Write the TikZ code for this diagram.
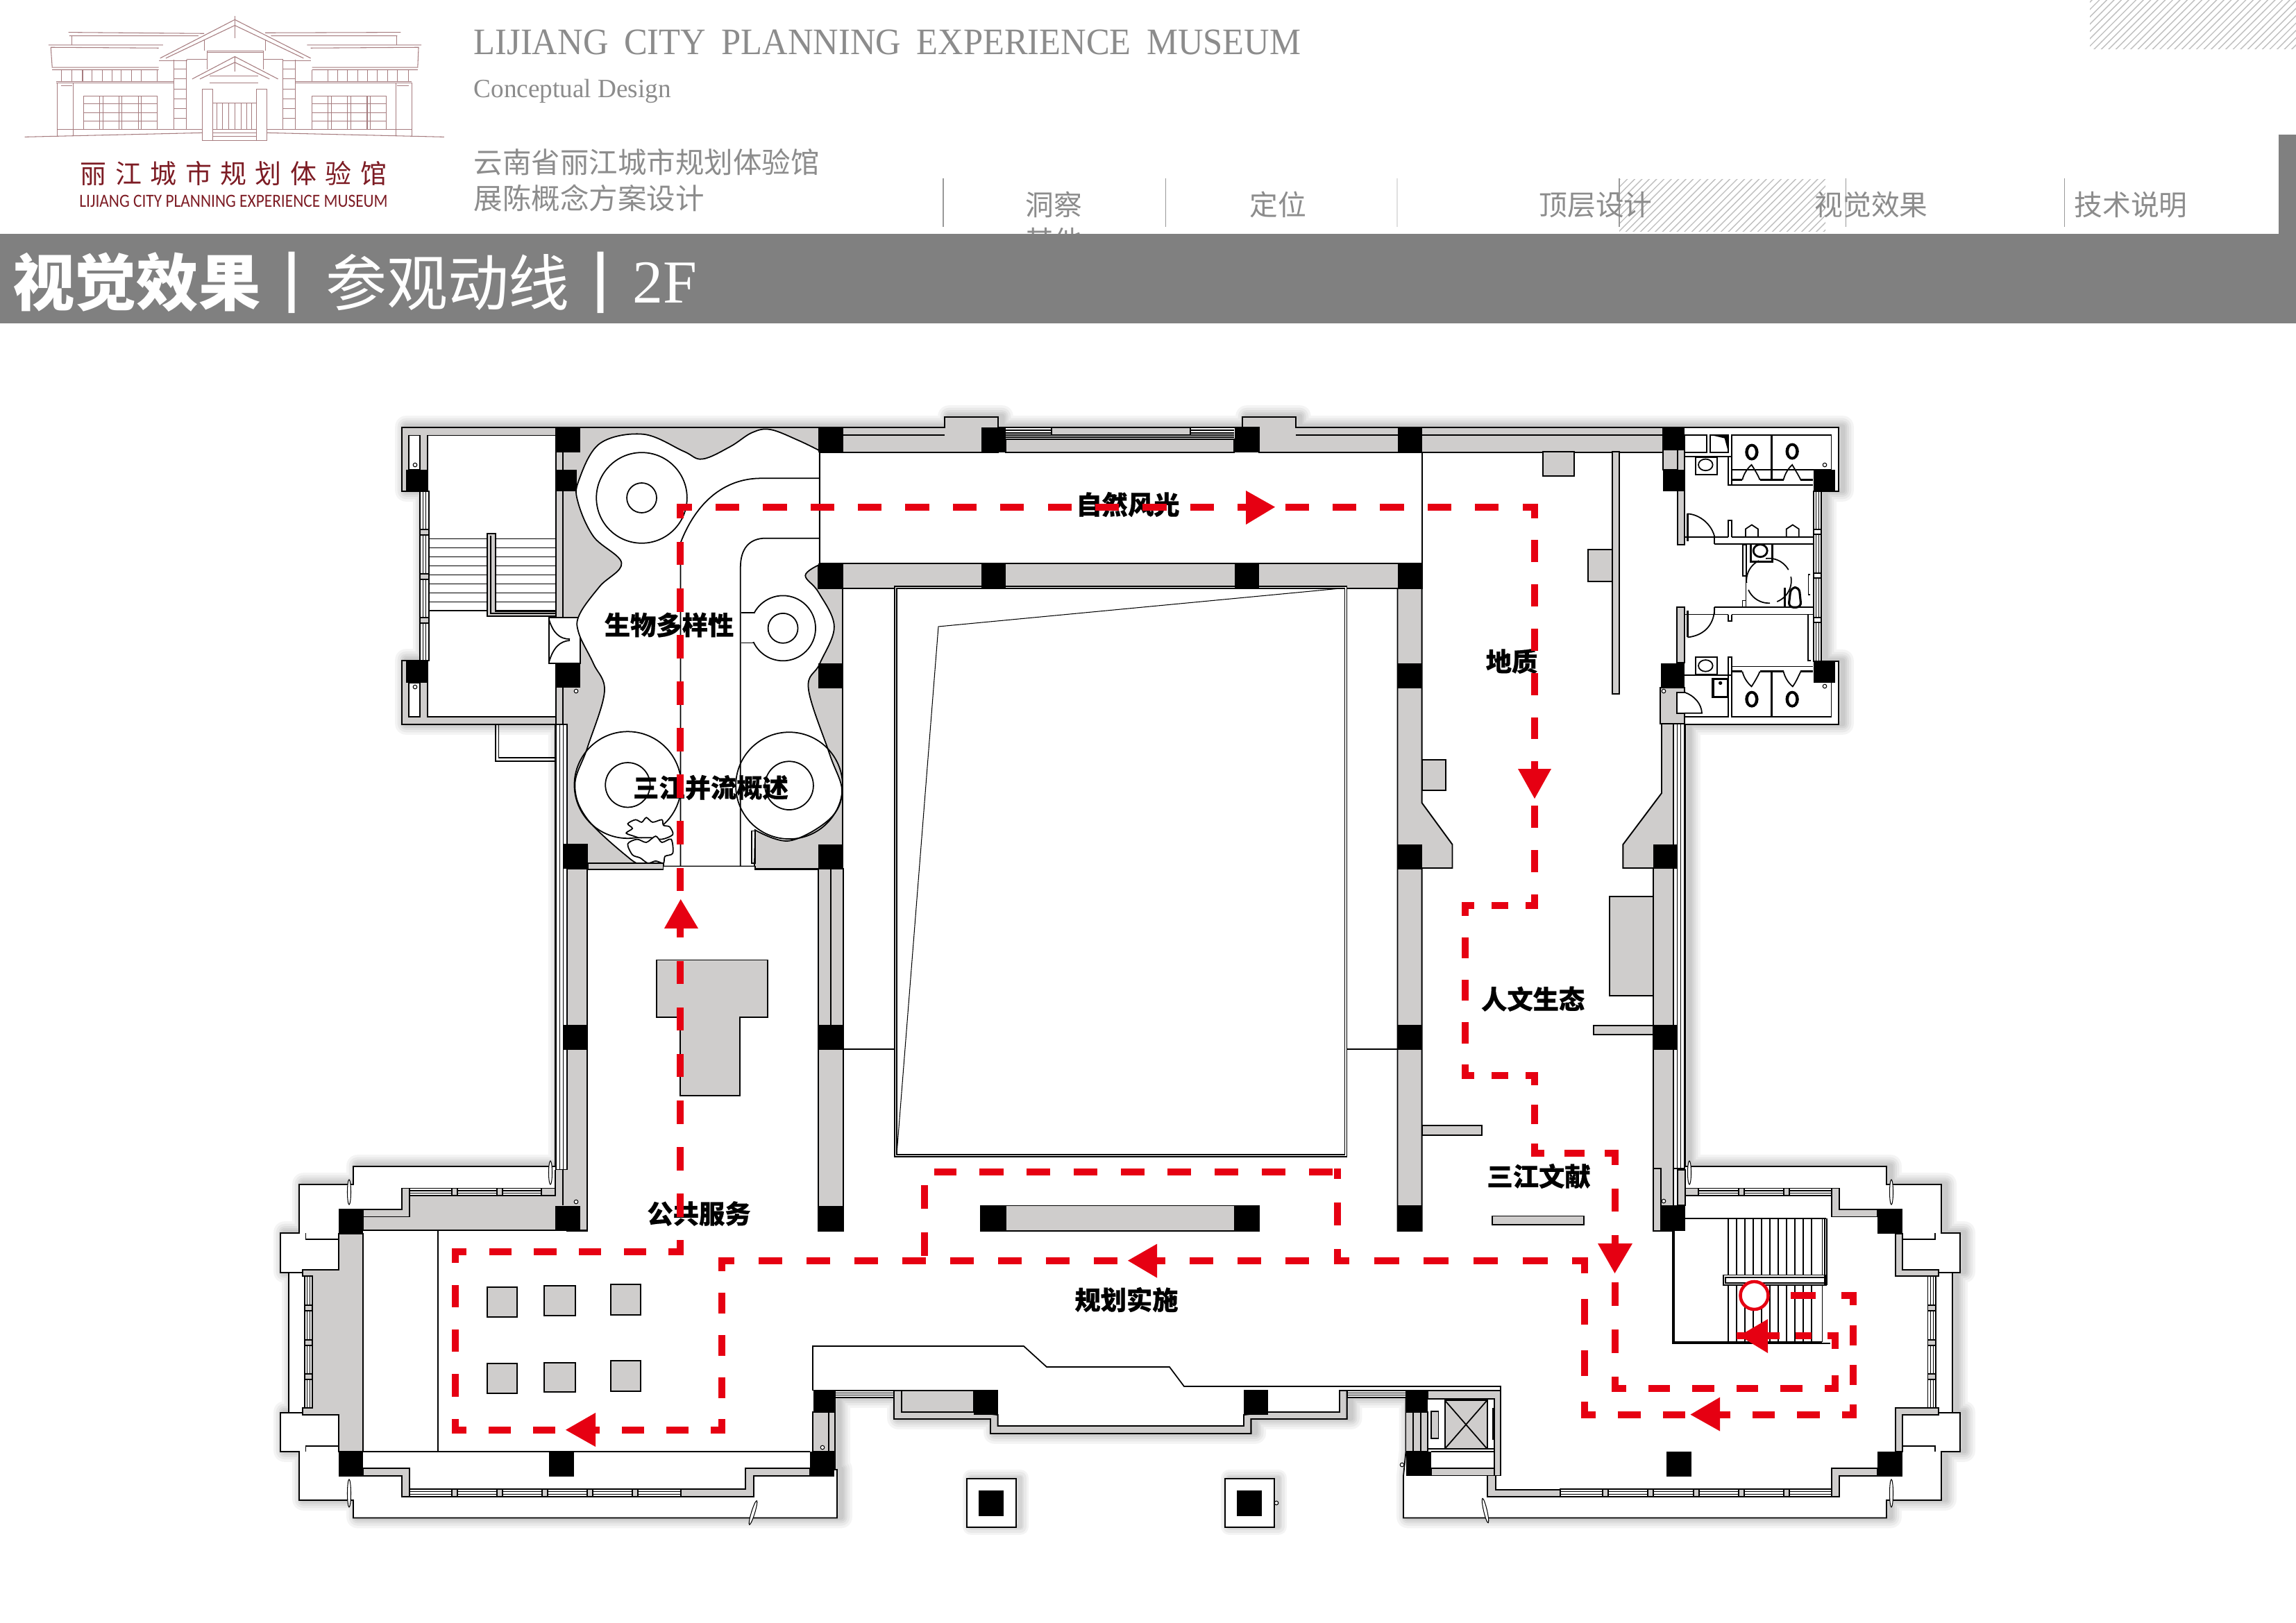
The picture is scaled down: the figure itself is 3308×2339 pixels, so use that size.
\documentclass[tikz,border=0pt]{standalone}
\usepackage{fontspec}
\usepackage{tikz}
\usetikzlibrary{calc,patterns}
\setmainfont{Liberation Serif}
\newfontfamily\cjk{Noto Sans CJK SC}
\newfontfamily\logosans{Carlito}
\newcommand{\planfs}[1]{\fontsize{#1}{#1}\selectfont}
\definecolor{wallgray}{HTML}{CFCDCC}
\definecolor{bandgray}{HTML}{808080}
\definecolor{headgray}{HTML}{8C8C8C}
\definecolor{routered}{HTML}{E60012}
\definecolor{logoline}{HTML}{A67C7F}
\definecolor{logotext}{HTML}{7D1C24}
\tikzset{
  plain/.style={draw=black, line width=0.5pt},
  thin line/.style={draw=black, line width=0.3pt},
  wall/.style={draw=black, line width=0.55pt, fill=wallgray},
  pillar/.style={fill=black},
  route/.style={draw=routered, line width=2.85pt, line cap=rect},
  routerun/.style={route, dash pattern=on 6.83pt off 12.43pt},
  head/.style={inner sep=0pt, text=headgray},
  label/.style={inner sep=0pt, text=black, font=\cjk\bfseries\addfontfeature{FakeBold=0.5}\planfs{10.6pt}},
  logo/.style={draw=logoline, line width=0.3pt},
  hatch/.style={pattern=north east lines, pattern color=black!25},
  glow/.style={draw=black, draw opacity=0.045, line join=round, xshift=6*0.01cm, yshift=1*0.01cm},
}
\newcommand{\floorpath}{(579,616) -- (1361,616) -- (1361,601) -- (1438,601) -- (1438,616) -- (1790,616) -- (1790,601) -- (1867,601)
    -- (1867,616) -- (2649,616) -- (2649,708) -- (2624,708) -- (2624,953) -- (2649,953) -- (2649,1044) -- (2428,1044)
    -- (2428,1681) -- (2718,1681) -- (2718,1707) -- (2797,1707) -- (2797,1777) -- (2824,1777) -- (2824,1834)
    -- (2813,1834) -- (2813,2036) -- (2824,2036) -- (2824,2092) -- (2797,2092) -- (2797,2162) -- (2718,2162)
    -- (2718,2187.5) -- (2022,2187.5) -- (2022,2127) -- (2025.5,2092) -- (2025.5,2014) -- (1940.6,2014)
    -- (1940.6,2045) -- (1802.4,2045) -- (1802.4,2066) -- (1427,2066) -- (1427,2045) -- (1288,2045) -- (1288,2014)
    -- (1203,2014) -- (1203,2118) -- (1206,2118) -- (1206,2187.5) -- (509,2187.5) -- (509,2162) -- (431,2162)
    -- (431,2092) -- (404,2092) -- (404,2036) -- (416,2036) -- (416,1834) -- (404,1834) -- (404,1777) -- (431,1777)
    -- (431,1707) -- (509,1707) -- (509,1681) -- (800,1681) -- (800,1044) -- (579,1044) -- (579,952) -- (605,952)
    -- (605,708) -- (579,708) -- cycle}
\newcommand{\glazeh}[4]{%
  \draw[wall,fill=white] (#1,#2) rectangle (#3,#4);
  \draw[thin line] (#1,{#2+(#4-#2)/3}) -- (#3,{#2+(#4-#2)/3});
  \draw[thin line] (#1,{#2+2*(#4-#2)/3}) -- (#3,{#2+2*(#4-#2)/3});
}
\newcommand{\glazev}[4]{%
  \draw[wall,fill=white] (#1,#2) rectangle (#3,#4);
  \draw[thin line] ({#1+(#3-#1)/3},#2) -- ({#1+(#3-#1)/3},#4);
  \draw[thin line] ({#1+2*(#3-#1)/3},#2) -- ({#1+2*(#3-#1)/3},#4);
}
\newcommand{\routeleg}[3]{%
  \path let \p1=($(#2)-(#1)$), \n1={veclen(\x1,\y1)} in \pgfextra{%
    \pgfmathsetmacro\legper{\n1/#3}\xdef\legper{\legper}};
  \pgfmathsetmacro\legon{\legper/2-2.845}
  \pgfmathsetmacro\legoff{\legper/2+2.845}
  \pgfmathsetmacro\legph{\legon/2}
  \draw[route, dash pattern=on \legon pt off \legoff pt, dash phase=\legph pt] (#1) -- (#2);
}
\begin{document}
\begin{tikzpicture}[x=0.01cm, y=-0.01cm]
  \useasboundingbox (0,0) rectangle (3308,2339);
  \fill[white] (0,0) rectangle (3308,2339);

  % header
  \fill[hatch] (3011,0) rectangle (3308,70);
  \fill[hatch] (2333,258) rectangle (2630,333);
  \foreach \x in {1359,1679.5,2333,2659,2974}
    \draw[thin line, draw=black!40] (\x,257) -- (\x,327);
  \draw[thin line, draw=black!12] (2013,257) -- (2013,327);
  \node[head, font=\cjk\planfs{11.6pt}] (navone) at (1518,295) {洞察};
  \node[head, font=\cjk\planfs{11.6pt}] (navmore) at (1518,347) {其他};
  \node[head, font=\cjk\planfs{11.6pt}] (navtwo) at (1841,295) {定位};
  \node[head, font=\cjk\planfs{11.6pt}] (navthree) at (2299,295) {顶层设计};
  \node[head, font=\cjk\planfs{11.6pt}] (navfour) at (2696,295) {视觉效果};
  \node[head, font=\cjk\planfs{11.6pt}] (navfive) at (3070,295) {技术说明};
  \fill[bandgray] (0,337) rectangle (3308,466);
  \fill[bandgray] (3283,194) rectangle (3308,337);
  \node[head, anchor=base west, font=\planfs{15.3pt}] (title) at (682,78)
    {\scalebox{0.94}[1]{LIJIANG\hspace{3pt} CITY\hspace{3pt} PLANNING\hspace{3pt} EXPERIENCE\hspace{3pt} MUSEUM}};
  \node[head, anchor=base west, font=\planfs{10.8pt}] (subtitle) at (682,140) {\scalebox{0.98}[1]{Conceptual Design}};
  \node[head, anchor=west, font=\cjk\planfs{11.8pt}] (cnone) at (682,234) {云南省丽江城市规划体验馆};
  \node[head, anchor=west, font=\cjk\planfs{11.8pt}] (cntwo) at (682,285) {展陈概念方案设计};
  \node[inner sep=0pt, text=white, font=\cjk\bfseries\planfs{25.4pt}] (secone) at (197,407) {视觉效果};
  \node[inner sep=0pt, text=white, font=\cjk\planfs{25pt}] (sectwo) at (645,407) {参观动线};
  \node[inner sep=0pt, text=white, font=\cjk\bfseries\planfs{22pt}] (barone) at (421,407) {|};
  \node[inner sep=0pt, text=white, font=\cjk\bfseries\planfs{22pt}] (bartwo) at (866,407) {|};
  \node[inner sep=0pt, text=white, font=\planfs{25pt}] (secthree) at (958,407) {2F};

  % logo
  \begin{scope}[shift={(20,10)}, x=0.004082cm, y=-0.003333cm]
    \draw[logo] (38,563) -- (665,545) (890,545) -- (1515,563);
    \draw[logo] (515,222) -- (778,55) -- (1045,222) (535,222) -- (778,80) -- (1020,222);
    \draw[logo] (512,232) -- (610,232) (945,232) -- (1045,232) (778,40) -- (778,135);
    \draw[logo] (670,145) -- (670,190) (885,145) -- (885,190);
    \draw[logo] (192,110) -- (670,115) (195,125) -- (650,125) (885,112) -- (1362,110) (905,125) -- (1350,125);
    \draw[logo] (205,125) -- (205,165) (1348,125) -- (1348,165);
    \draw[logo] (122,165) -- (525,165) (130,175) -- (510,178) (130,175) -- (135,262) -- (510,262) (135,272) -- (510,272);
    \draw[logo] (1032,165) -- (1435,165) (1045,178) -- (1425,175) -- (1422,262) -- (1050,262) (1050,272) -- (1422,272);
    \foreach \x in {168,205,242,275,312,345,378,415,448,505,1050,1105,1140,1175,1212,1245,1280,1315,1350,1390}
      \draw[logo] (\x,272) -- (\x,322);
    \draw[logo] (150,322) -- (565,322) (150,328) -- (565,328) (990,322) -- (1400,322) (990,328) -- (1400,328);
    \foreach \x in {152,208,1345,1402}
      \draw[logo] (\x,328) -- (\x,560);
    \draw[logo] (165,340) -- (205,340) (1348,340) -- (1390,340);
    \foreach \x in {245,302,313,370,381,438,449,505,1050,1107,1118,1175,1187,1244,1255,1312} {
      \draw[logo] (\x,385) -- (\x,530);
    }
    \foreach \y in {385,420,458,495} {
      \draw[logo] (245,\y) -- (505,\y) (1050,\y) -- (1312,\y);
    }
    \foreach \x in {563,608,948,992}
      \draw[logo] (\x,228) -- (\x,530);
    \foreach \y in {270,312,355,398,440,482} {
      \draw[logo] (563,\y) -- (608,\y) (948,\y) -- (992,\y);
    }
    \draw[logo] (608,228) -- (680,228) (880,228) -- (948,228);
    \draw[logo] (628,312) -- (778,215) -- (930,312) (655,312) -- (778,240) -- (900,312) (778,215) -- (778,280);
    \draw[logo] (680,190) -- (878,190) (680,198) -- (878,198) (680,190) -- (680,270) (878,190) -- (878,270);
    \draw[logo] (690,300) -- (860,300) (690,330) -- (860,330);
    \draw[logo] (663,355) rectangle (700,578) (855,355) rectangle (892,578);
    \draw[logo] (700,415) -- (855,415);
    \foreach \x in {715,735,757,778,800,820,838}
      \draw[logo] (\x,415) -- (\x,530);
    \foreach \y in {530,545,560,578}
      \draw[logo] (700,\y) -- (855,\y);
    \draw[logo] (152,530) -- (663,530) (892,530) -- (1402,530);
  \end{scope}
  \node[inner sep=0pt, text=logotext, font=\cjk\planfs{10.8pt}] (logocn) at (336.5,250)
    {\makebox[4.41cm][s]{丽\hfil 江\hfil 城\hfil 市\hfil 规\hfil 划\hfil 体\hfil 验\hfil 馆}};
  \node[inner sep=0pt, text=logotext, font=\logosans\planfs{7.6pt}] (logoen) at (336.5,290)
    {\scalebox{0.875}[1]{LIJIANG CITY PLANNING EXPERIENCE MUSEUM}};

  % floor outline
  \foreach \w in {9,7,5,3.5,2}
    \draw[glow, line width=\w pt] \floorpath;
  \foreach \x in {1393,1765} {
    \foreach \w in {7,5,3,1.5}
      \draw[glow, line width=\w pt] (\x,2131) rectangle ({\x+71},2201);
  }
  \draw[plain, fill=white] \floorpath;
  \foreach \x in {1393,1765}
    \draw[plain, fill=white] (\x,2131) rectangle ({\x+71},2201);

  % gray walls
  \draw[wall] (801,616) -- (1214,616) -- (1214,652) -- (1179,652) -- (1179,812) -- (1214,812) -- (1214,1252)
    -- (817,1252) -- (817,1044) -- (801,1044) -- cycle;
  \draw[wall] (579,616) -- (801,616) -- (801,627.5) -- (616,627.5) -- (616,708) -- (579,708) -- cycle;
  \draw[wall] (579,952) -- (616,952) -- (616,1033) -- (801,1033) -- (801,1044) -- (579,1044) -- cycle;
  \foreach \xa/\ya/\xb/\yb in {589/627.5/605/677, 589/984/605/1033}
    \draw[plain, fill=white] (\xa,\ya) rectangle (\xb,\yb);
  \draw[wall] (1214,616) -- (1361,616) -- (1361,601) -- (1438,601) -- (1438,652) -- (1214,652) -- cycle;
  \draw[wall] (1814,616) -- (1790,616) -- (1790,601) -- (1867,601) -- (1867,616) -- (2396,616) -- (2396,652) -- (1814,652) -- cycle;
  \draw[plain] (1214,627) -- (1361,627) (1867,627) -- (2396,627);
  \draw[wall] (1449,633) rectangle (1778,652);
  \draw[wall] (1515,616) rectangle (1715,627);
  \draw[plain] (1449,627) -- (1515,627) (1715,627) -- (1778,627) (1449,630) -- (1778,630);
  \foreach \y in {620,624} {
    \draw[thin line] (1449,\y) -- (1515,\y) (1715,\y) -- (1778,\y);
  }
  \draw[wall] (1179,812) rectangle (2049,848);
  \draw[wall] (817,1252) rectangle (846,1774);
  \draw[wall] (1179,1252) rectangle (1215,1774);
  \draw[plain] (1197,1252) -- (1197,1477);
  \draw[plain] (1179,652) -- (1179,812) (2048.6,652) -- (2048.6,812);
  \draw[wall] (2013.5,848) -- (2048.6,848) -- (2048.6,1157) -- (2092.5,1217) -- (2092.5,1251) -- (2048.6,1251) -- (2048.6,1774) -- (2013.5,1774) -- cycle;
  \draw[wall] (2048.6,1095) rectangle (2083,1139);
  \draw[wall] (2048.6,1622) rectangle (2135,1636);
  \draw[wall] (2394,1043) -- (2411,1043) -- (2411,1774) -- (2382,1774) -- (2382,1251) -- (2338.4,1251) -- (2338.4,1217) -- (2394,1143) -- cycle;
  \draw[wall] (2319,1292) rectangle (2382,1435);
  \draw[wall] (2295.6,1478) rectangle (2382,1491);
  \draw[wall] (2150,1752.5) rectangle (2281.6,1765);
  \draw[wall] (1413,1737.5) rectangle (1814,1774);
  \draw[wall] (2323,651) rectangle (2333,1000);
  \draw[wall] (2223,651) rectangle (2268,686);
  \draw[wall] (2288,792) rectangle (2323,838);
  \draw[wall] (946,1383.5) -- (1105.7,1383.5) -- (1105.7,1466) -- (1066,1466) -- (1066,1579) -- (980,1579) -- (980,1466) -- (946,1466) -- cycle;

  % display tables
  \foreach \xa/\ya/\xb/\yb in {701.7/1855/744.8/1898, 784/1853/828.6/1896.4, 879.7/1851/923.3/1895,
      701.7/1965/744.8/2008, 784/1963.6/828.6/2006.4, 879.7/1961/923.3/2005}
    \draw[wall] (\xa,\ya) rectangle (\xb,\yb);

  % courtyard
  \draw[plain, fill=white] (1289,845) rectangle (1940.6,1667);
  \draw[thin line] (1292,848) rectangle (1937.6,1664);
  \draw[thin line] (1352,903) -- (1931,848) (1352,903) -- (1292,1663);
  \draw[thin line] (1214,1512) -- (1289,1512) (1940,1512) -- (2014,1512);

  % left stair tower
  \glazev{605}{708}{618}{952}
  \foreach \y in {763,826.6,890}
    \draw[wall] (605,\y) rectangle (618,{\y+8});
  \foreach \y in {776.6,789.6,802.6,815.6,828.6,841.6,854.6,867.6,880}
    \draw[plain] (618,\y) -- (702,\y) (714,\y) -- (801,\y);
  \draw[wall] (702,768.6) -- (714,768.6) -- (714,881) -- (801,881) -- (801,888) -- (702,888) -- cycle;
  \draw[thin line] (707,772) -- (707,884) -- (801,884);
  \draw[thin line] (801,640) -- (811,640) (811,640) -- (811,1044);
  \draw[plain] (714,1045) -- (714,1097) -- (801,1097) (718.5,1045) -- (718.5,1092) -- (801,1092);
  \draw[plain, fill=white] (791,890) -- (836,890) -- (836,956) -- (791,956) -- cycle;
  \draw[plain] (791,893) .. controls (797,912) and (806,921) .. (821,921);
  \draw[plain] (791,954) .. controls (797,934) and (806,924) .. (821,923);

  % organic exhibition room
  \begin{scope}[shift={(560,590)}, x=0.004464cm, y=-0.004464cm]
    \draw[plain, fill=white] plot[smooth, tension=0.6] coordinates {(1388,133) (1320,100) (1230,65) (1170,75) (1100,120)
      (1010,160) (950,135) (820,80) (680,110) (612,230) (610,300) (660,410) (750,495) (680,570) (615,660) (612,720) (660,820)
      (695,910) (640,1090) (600,1210) (640,1320) (780,1450) (815,1462)} -- (885,1462) -- (885,1472) -- (1178,1472)
      -- plot[smooth, tension=0.6] coordinates {(1180,1355) (1290,1390) (1420,1320) (1460,1230) (1420,1110)
      (1352,900) (1388,820) (1435,700) (1385,590) (1342,535) (1388,500)} -- cycle;
    \draw[plain] (815,285) circle (146) (815,285) circle (48);
    \draw[plain] (770,1210) circle (172) (770,1210) circle (72);
    \draw[plain] (1290,1212) circle (172) (1290,1212) circle (78);
    \draw[plain, fill=white] (1270,705) circle (105);
    \draw[plain] (1270,705) circle (48);
    \fill[white] (1136,657) rectangle (1178,750);
    \draw[plain] (1135,655) -- (1178,655) (1135,752) -- (1178,752);
    \draw[plain] (940,1472) -- (940,430) .. controls (990,300) and (1080,222) .. (1200,222) -- (1388,222);
    \draw[plain] (1133,1472) -- (1133,510) .. controls (1133,450) and (1160,415) .. (1215,415) -- (1388,415);
    \draw[plain] (1170,1358) rectangle (1180,1462);
    \draw[wall] (642,1462) rectangle (885,1482);
    \fill[white] (886,1474) rectangle (1178,1486);
    \draw[plain] (1180,1472) -- (1180,1482) -- (1386,1482);
    \draw[plain, fill=white] plot[smooth cycle, tension=0.5] coordinates {(770,1335) (795,1322) (815,1330) (830,1315) (850,1330)
      (880,1322) (885,1340) (905,1345) (915,1370) (880,1385) (845,1380) (805,1380) (790,1375) (765,1365) (785,1350)};
    \draw[plain, fill=white] plot[smooth cycle, tension=0.5] coordinates {(770,1400) (800,1385) (830,1395) (860,1375) (880,1395)
      (910,1385) (915,1430) (890,1440) (885,1462) (860,1455) (835,1462) (810,1445) (785,1435)};
  \end{scope}

  % right toilets
  \begin{scope}[shift={(2250,590)}, x=0.003333cm, y=-0.003333cm]
    \draw[wall] (438,175) rectangle (502,262);
    \draw[wall] (502,175) rectangle (532,585);
    \draw[wall] (500,857) rectangle (532,1097);
    \draw[wall] (428,1205) -- (532,1205) -- (532,1225) -- (500,1225) -- (500,1315) -- (532,1315) -- (532,1362) -- (428,1362) -- cycle;
    \draw[plain] (532,112) rectangle (628,187) (643,112) rectangle (722,187);
    \fill (650,112) -- (722,112) -- (722,187) -- (705,125) -- cycle;
    \draw[plain] (737,112) rectangle (1167,262);
    \fill[white] (1090,262) rectangle (1165,300);
    \draw[plain] (532,205) -- (722,205);
    \draw[wall,fill=white] (722,205) rectangle (737,328);
    \draw[plain] (737,328) -- (1088,328);
    \draw[plain, line width=1pt] (737,305) -- (782,305) (858,305) -- (960,305) (1035,305) -- (1088,305);
    \draw[plain] (782,305) .. controls (790,275) and (805,255) .. (822,240) .. controls (835,260) and (850,285) .. (858,305);
    \draw[plain] (960,305) .. controls (968,275) and (982,255) .. (998,240) .. controls (1010,260) and (1025,285) .. (1035,305);
    \fill (905,112) rectangle (912,305);
    \foreach \xx/\yy in {823/185, 998/182, 823/1255, 998/1255} {
      \fill (\xx,\yy) ellipse [x radius=29, y radius=36];
      \fill[white] (\xx,\yy) ellipse [x radius=15, y radius=24];
    }
    \foreach \xa/\ya/\xb/\yb in {580/208/672/283, 580/1072/672/1147}
      \draw[plain] (\xa,\ya) rectangle (\xb,\yb);
    \draw[plain] (623,240) ellipse [x radius=31, y radius=25];
    \draw[plain] (623,1110) ellipse [x radius=31, y radius=25];
    \draw[plain] (532,552) -- (720,552) (737,552) -- (1088,552) (662,583) -- (1088,583) (662,552) -- (662,583);
    \draw[plain] (720,552) -- (720,480) -- (737,480) -- (737,552);
    \draw[plain, line width=1pt] (545,452) -- (545,570);
    \draw[plain] (545,452) .. controls (600,455) and (650,500) .. (662,552);
    \foreach \xx in {823,1000}
      \draw[plain] (\xx-27,552) -- (\xx-27,518) -- (\xx,500) -- (\xx+27,518) -- (\xx+27,552);
    \draw[wall,fill=white] (783,585) -- (798,585) -- (798,722) -- (783,722) -- cycle;
    \draw[plain] (798,722) -- (798,857) (798,828) -- (783,828) -- (783,857);
    \draw[plain, line width=0.9pt] (818,587) -- (818,660) -- (912,660) -- (912,587);
    \draw[plain, line width=0.8pt] (860,612) ellipse [x radius=30, y radius=27];
    \draw[plain, dash pattern=on 11pt off 3pt] (897,742) circle (97);
    \draw[plain, line width=0.9pt] (965,772) -- (965,857);
    \draw[plain, line width=0.9pt, rounded corners=2pt] (982,857) -- (992,772) -- (1028,770) -- (1037,857) -- cycle;
    \draw[plain] (1075,715) -- (1068,715) -- (1068,803) -- (1075,803);
    \draw[plain] (662,857) -- (1088,857) (532,888) -- (720,888) (737,888) -- (1088,888) (662,857) -- (662,888);
    \draw[plain] (720,888) -- (720,917) -- (737,917) -- (737,888);
    \draw[plain, line width=1pt] (545,870) -- (545,987);
    \draw[plain] (545,987) .. controls (610,980) and (660,940) .. (662,860);
    \draw[plain] (1067,888) -- (1067,1088) -- (1078,1088);
    \draw[plain] (737,1113) -- (1088,1113);
    \draw[wall,fill=white] (720,1072) rectangle (737,1150);
    \draw[plain] (532,1150) -- (722,1150);
    \draw[plain, line width=1pt] (737,1135) -- (782,1135) (858,1135) -- (960,1135) (1035,1135) -- (1088,1135);
    \draw[plain] (782,1135) .. controls (790,1165) and (805,1185) .. (822,1200) .. controls (835,1180) and (850,1155) .. (858,1135);
    \draw[plain] (960,1135) .. controls (968,1165) and (982,1185) .. (1000,1200) .. controls (1015,1180) and (1025,1155) .. (1035,1135);
    \draw[plain] (737,1135) -- (737,1330) -- (1167,1330) -- (1167,1170);
    \fill (905,1135) rectangle (912,1330);
    \draw[plain, line width=1pt] (655,1167) rectangle (720,1245);
    \fill (687,1185) circle (8);
    \draw[plain] (532,1225) .. controls (575,1240) and (605,1275) .. (607,1315) -- (532,1315);
    \draw[plain] (532,1330) -- (722,1330) -- (722,1150);
  \end{scope}
  \glazev{2613}{708}{2624}{953}
  \foreach \y in {763,826,890}
    \draw[wall,fill=white] (2613,\y) rectangle (2624,{\y+7});

  % glazing
  \glazev{801}{1044}{817}{1686}
  \glazev{2411}{1043}{2427}{1684}
  \glazev{439}{1839}{450}{2029}
  \glazev{2777.5}{1839}{2789}{2029}
  \glazeh{590}{1712.5}{780}{1723}
  \glazeh{2447}{1712.5}{2639}{1723}
  \glazeh{590}{2146}{981}{2157}
  \glazeh{2248}{2146}{2639}{2157}
  \glazeh{1203}{2004}{1288}{2014}
  \glazeh{1940.6}{2004}{2025.5}{2014}
  \foreach \y in {1881,1931,1980} {
    \draw[wall] (439,\y) rectangle (450,{\y+8});
    \draw[wall] (2777.5,\y) rectangle (2789,{\y+8});
  }
  \foreach \x in {651,716}
    \draw[wall] (\x,1712.5) rectangle ({\x+8},1723);
  \foreach \x in {2505,2570}
    \draw[wall] (\x,1712.5) rectangle ({\x+8},1723);
  \foreach \x in {651,716,781,846,911}
    \draw[wall] (\x,2146) rectangle ({\x+8},2157);
  \foreach \x in {2309,2374,2440,2505,2570}
    \draw[wall] (\x,2146) rectangle ({\x+8},2157);

  % wings
  \fill[wallgray] (590,1723) -- (800,1723) -- (800,1686) -- (846,1686) -- (846,1773) -- (523,1773) -- (523,1753.5) -- (590,1753.5) -- cycle;
  \draw[plain] (590,1723) -- (800,1723) -- (800,1686) (846,1686) -- (846,1773) -- (523,1773) -- (523,1753.5) -- (590,1753.5);
  \draw[thin line] (811,1686) -- (811,1737);
  \draw[wall] (579.4,1712.5) -- (590,1712.5) -- (590,1753.5) -- (523,1753.5) -- (523,1743) -- (579.4,1743) -- cycle;
  \draw[wall] (780,1712.5) rectangle (800,1723);
  \draw[wall] (487.6,1778) -- (523,1778) -- (523,2092) -- (487.6,2092) -- (487.6,2039) -- (436,2039) -- (436,2029) -- (450,2029)
    -- (450,1839) -- (436,1839) -- (436,1830) -- (487.6,1830) -- cycle;
  \draw[plain] (440.5,1777) -- (440.5,1786) -- (487.6,1786) (440.5,2092) -- (440.5,2084) -- (487.6,2084);
  \draw[plain] (416,1834) -- (436,1834) (416,2036) -- (436,2036);
  \draw[thin line] (631,1773) -- (631,2092);
  \draw[plain] (523,2092) -- (1167,2092);
  \draw[wall] (523,2116) -- (590,2116) -- (590,2146) -- (590,2157) -- (579,2157) -- (579,2127) -- (523,2127) -- cycle;
  \draw[wall] (1074,2116) -- (1167,2116) -- (1167,2127) -- (1086,2127) -- (1086,2157) -- (981,2157) -- (981,2146) -- (1074,2146) -- cycle;
  \draw[wall] (2382,1684) rectangle (2393,1774);
  \draw[wall] (2417,1686) rectangle (2428,1737);
  \draw[wall] (2428,1712.5) rectangle (2447,1723);
  \draw[wall] (2639,1712.5) -- (2650,1712.5) -- (2650,1743) -- (2705,1743) -- (2705,1753.5) -- (2639,1753.5) -- cycle;
  \draw[wall] (2731,1778) -- (2741,1778) -- (2741,1830) -- (2793,1830) -- (2793,1839) -- (2731,1839) -- cycle;
  \draw[wall] (2731,2029) -- (2793,2029) -- (2793,2039) -- (2741,2039) -- (2741,2092) -- (2731,2092) -- cycle;
  \draw[plain] (2741,1786) -- (2788,1786) -- (2788,1777) (2741,2084) -- (2788,2084) -- (2788,2092);
  \draw[plain] (2793,1834) -- (2813,1834) (2793,2036) -- (2813,2036);
  \draw[wall] (2639,2116) -- (2705,2116) -- (2705,2127) -- (2650,2127) -- (2650,2157) -- (2639,2157) -- cycle;
  \draw[wall] (2143,2126.5) -- (2155,2126.5) -- (2155,2147) -- (2248,2147) -- (2248,2157) -- (2143,2157) -- cycle;

  % stair, south east
  \draw[plain] (2428,1756) -- (2631,1756);
  \draw[plain] (2410,1774) -- (2410,1936) -- (2637,1936);
  \draw[plain] (2412,1774) -- (2412,1934) -- (2625,1934);
  \foreach \x in {2490,2502,2514,2526,2538,2550,2562,2574,2586,2598,2610,2625} {
    \draw[thin line] (\x,1756) -- (\x,1838) (\x,1852) -- (\x,1934);
  }
  \draw[plain] (2483,1837.5) rectangle (2631,1852);
  \draw[thin line] (2486,1841) rectangle (2628,1849);
  \draw[plain] (2629,1756) -- (2629,1852) (2632,1756) -- (2632,1852);

  % front block and lift
  \draw[plain] (1171,2004) -- (1171,1940) -- (1475,1940) -- (1508,1970) -- (1685,1970) -- (1706,1998) -- (2162,1998) -- (2162,2004);
  \draw[wall] (1288,2004) -- (1288,2045) -- (1427,2045) -- (1427,2066) -- (1802.4,2066) -- (1802.4,2045) -- (1940.6,2045) -- (1940.6,2004)
    -- (1930,2004) -- (1930,2035) -- (1827,2035) -- (1792,2039) -- (1792,2055) -- (1437.6,2055) -- (1437.6,2039) -- (1402.5,2035)
    -- (1299,2035) -- (1299,2004) -- cycle;
  \draw[wall] (1299,2004) rectangle (1402.5,2035);
  \draw[wall] (1171,2035) rectangle (1203,2092);
  \draw[plain] (1194,2035) -- (1194,2092);
  \draw[wall] (2025.5,2035) rectangle (2057,2092);
  \draw[plain] (2036,2035) -- (2036,2092) (2047,2035) -- (2047,2092);
  \draw[wall] (2057,2004) -- (2162,2004) -- (2162,2126.5) -- (2153,2126.5) -- (2153,2016) -- (2057,2016) -- cycle;
  \draw[wall] (2062,2116) rectangle (2153,2126.5);
  \draw[plain] (2057,2088) -- (2153,2088) (2062,2092) -- (2153,2092);
  \draw[wall] (2062,2034) rectangle (2072.5,2073);
  \draw[wall] (2081.6,2018) rectangle (2142.6,2088);
  \draw[plain] (2081.6,2018) -- (2142.6,2088) (2142.6,2018) -- (2081.6,2088);
  \fill (2150,2029) rectangle (2153,2075);

  % columns
  \foreach \xa/\ya/\xb/\yb in {801/617/836/652, 801/677/831/708, 584.5/677/616/708, 584.5/952.5/616/984,
      801/956/836/991, 811/1216/847/1252, 1179/616/1214.5/652, 1179/812/1214.5/848, 1179/956/1214/992,
      1179/1217/1215/1252, 1179/1477/1215/1513, 1179/1737.5/1215/1774, 811/1477/846/1513, 800/1737.5/836/1774,
      1414/616/1449/652, 1778.5/616/1814/652, 2014/616/2049/652, 1414/812/1449/848, 1778.5/812/1814/848,
      2014/812/2049/848, 2014/956/2049/992, 2014/1217/2049/1252.5, 2014/1477/2049/1513, 2014/1737/2049/1774,
      2382/1217/2417/1252, 2382/1477/2417/1513, 2393/1737/2428/1774, 2396/616/2427/648, 2396/677/2427/708,
      2613/677/2644/708, 2613/953/2644/984, 2393/956/2427/992, 2705/1742/2741/1778, 2705/2092/2741/2127.5,
      2401/2092/2437/2127.5, 487.6/1742/523/1778, 487.6/2092/523/2127.5, 791/2092/827/2127.5,
      1166.7/2092/1202/2127.5, 1172/2003/1203/2036, 1402.5/2003/1437.6/2039, 1792/2003/1827/2039,
      2025.5/2003/2057/2035, 2025.5/2092/2062/2126.5, 1410/2148/1446/2184.5, 1782/2148/1818/2184.5,
      1413/1737.5/1450/1774, 1778/1737.5/1814/1774}
    \fill[pillar] (\xa,\ya) rectangle (\xb,\yb);

  % small fittings
  \foreach \xx/\yy in {598/670, 598/990, 830/996, 2629/670, 2629/989, 2397/996, 2397/1731, 830/1732, 1185/2086, 2020/2111, 1839/2166}
    \draw[thin line, fill=white] (\xx,\yy) circle (2.8);
  \foreach \xx/\yy/\rr in {2434/1690/17, 2725/1718/18, 2725/2152/20, 503/1718/18, 793/1690/17, 503/2152/20}
    \draw[thin line, fill=white] (\xx,\yy) ellipse [x radius=2.5, y radius=\rr];
  \foreach \xx/\yy/\aa in {1085/2180/-17, 2140/2177/13}
    \draw[thin line, fill=white, rotate around={\aa:(\xx,\yy)}] (\xx,\yy) ellipse [x radius=2.5, y radius=18];

  % labels
  \node[label] (nature) at (1625,727) {自然风光};
  \node[label] (bio) at (964,900.6) {生物多样性};
  \node[label] (rivers) at (1024,1135) {三江并流概述};
  \node[label] (geo) at (2178,953) {地质};
  \node[label] (human) at (2208.6,1439.6) {人文生态};
  \node[label] (docs) at (2217,1695) {三江文献};
  \node[label] (service) at (1007,1749) {公共服务};
  \node[label] (planning) at (1623,1873) {规划实施};

  % visitor route
  \coordinate (r1) at (2670,1867);
  \coordinate (r2) at (2670,2038.6);
  \coordinate (r3) at (2283,2038.6);
  \coordinate (r4) at (2283,1817);
  \coordinate (r5) at (1926.6,1817);
  \coordinate (r6) at (1926.6,1688.6);
  \coordinate (r9) at (1040,1817);
  \coordinate (r10) at (1040,2060.7);
  \coordinate (r11) at (656,2060.7);
  \coordinate (r12) at (656,1804);
  \coordinate (r13) at (979.6,1804);
  \coordinate (r14) at (979.6,730.6);
  \coordinate (r15) at (2210.7,730.6);
  \coordinate (r16) at (2210.7,1304.6);
  \coordinate (r17) at (2111.4,1304.6);
  \coordinate (r18) at (2111.4,1549.5);
  \coordinate (r19) at (2210.7,1549.5);
  \coordinate (r20) at (2210.7,1661.7);
  \coordinate (r21) at (2327,1661.7);
  \coordinate (r22) at (2327,2000.7);
  \coordinate (r23) at (2644.4,2000.7);
  \coordinate (r24) at (2644.4,1925.4);
  \coordinate (r25) at (2507,1925.4);
  \foreach \a/\b/\k in {r1/r2/3, r2/r3/6, r3/r4/3, r4/r5/5, r5/r6/1.9, r9/r10/4, r10/r11/6, r11/r12/4, r12/r13/5,
      r13/r14/16, r14/r15/18, r15/r16/9, r16/r17/2, r17/r18/4, r18/r19/2, r19/r20/2, r20/r21/2, r21/r22/5,
      r22/r23/5, r23/r24/1, r24/r25/3}
    \routeleg{\a}{\b}{\k}
  \draw[routerun] (1914.6,1688.6) -- (1351,1688.6);
  \draw[routerun] (1332,1713) -- (1332,1808);
  \draw[route, dash pattern=on 6.83pt off 12.8pt] (1881,1817) -- (1040,1817);
  \draw[route, line cap=butt] (2580,1867) -- (2616,1867);
  \draw[route, line cap=butt] (2653,1867) -- (2675,1867);
  \draw[draw=routered, line width=1.3pt, fill=white] (2527.5,1867) ellipse [x radius=20, y radius=20];
  \foreach \xa/\ya/\xb/\yb/\xc/\yc in {2506/1925/2547/1901/2547/1950, 2435.5/2038.6/2478/2013.6/2478/2062.5,
      2326.5/1835/2302/1792/2352/1792, 2211/1151/2187/1108/2235/1108, 1837/730.7/1795/707/1795/756,
      980.7/1296/957/1338/1006/1338, 815/2060.7/858/2036/858/2085, 1625/1816.7/1667/1792.6/1667/1841.6}
    \fill[routered] (\xa,\ya) -- (\xb,\yb) -- (\xc,\yc) -- cycle;
\end{tikzpicture}
\end{document}
